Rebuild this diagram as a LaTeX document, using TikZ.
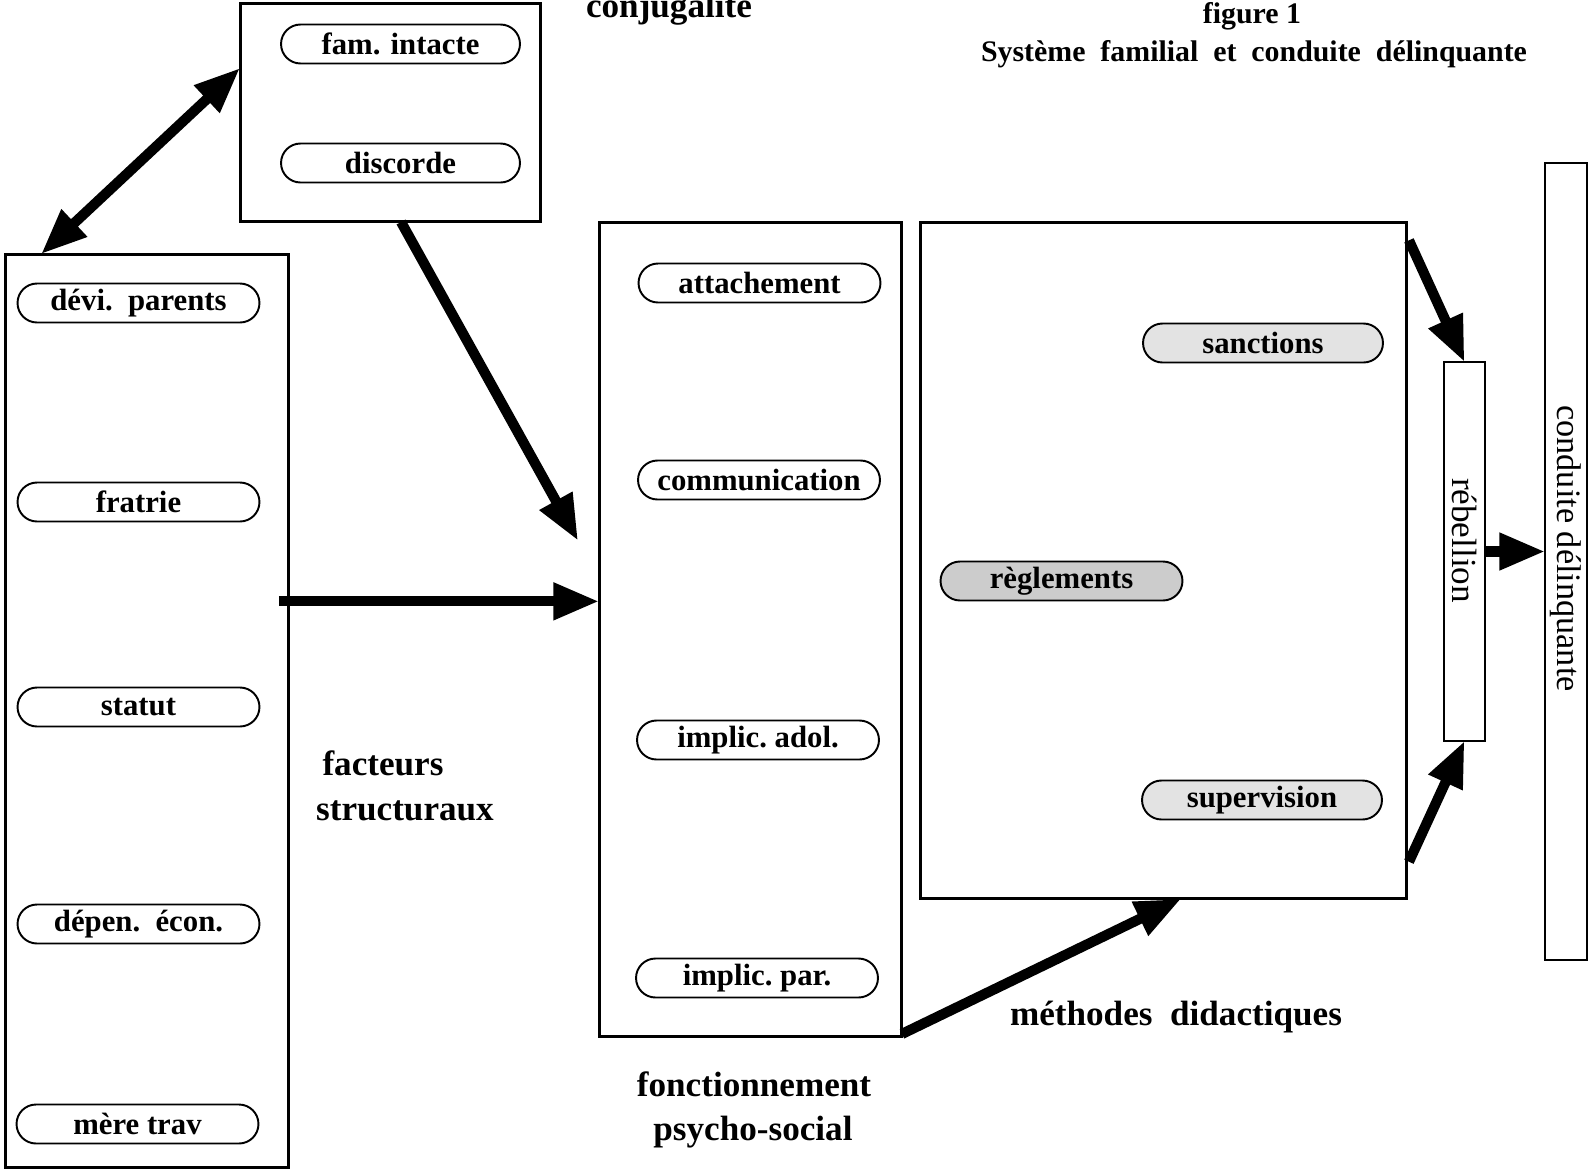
\documentclass[tikz,border=0pt]{standalone}
\usepackage{fontspec}
\setmainfont{Liberation Serif}
\usetikzlibrary{arrows.meta,calc,shapes.misc}
\begin{document}
\begin{tikzpicture}[x=0.02cm,y=-0.02cm,
  box/.style={draw, line width=1.7pt, inner sep=0pt, outer sep=0pt},
  pill/.style={draw, rounded rectangle, line width=1.1pt, minimum height=0.78cm,
    minimum width=4.84cm, inner sep=0pt, font=\fontsize{17.5}{20}\selectfont\bfseries},
  big/.style={font=\fontsize{20}{24}\selectfont\bfseries, inner sep=0pt, anchor=base},
  ttl/.style={font=\fontsize{17}{20}\selectfont\bfseries, inner sep=0pt, anchor=base},
  vert/.style={rotate=-90, inner sep=0pt, font=\fontsize{20}{24}\selectfont},
  tipT/.tip={Triangle[length=26pt,width=20pt]},
  fat/.style={line width=5.8pt, -tipT},
]
\useasboundingbox (0,0) rectangle (1589,1170);

% boxes
\node[box, minimum width=6.02cm, minimum height=4.38cm] (conj) at (390.5,112.5) {};
\node[box, minimum width=5.68cm, minimum height=18.28cm] (left) at (147,711) {};
\node[box, minimum width=6.06cm, minimum height=16.30cm] (mid) at (750.5,629.5) {};
\node[box, minimum width=9.74cm, minimum height=13.54cm] (meth) at (1163.5,560.5) {};
\node[box, line width=1.1pt, minimum width=0.82cm, minimum height=7.58cm] (reb) at (1464.5,551.5) {};
\node[box, line width=1.1pt, minimum width=0.84cm, minimum height=15.94cm] (cond) at (1566,561.5) {};

% pills
\node[pill, minimum width=4.78cm] (famint) at (400.5,44) {fam. intacte};
\node[pill, minimum width=4.78cm] (disc) at (400.5,163) {discorde};

\node[pill] (devi) at (138.5,303) {dévi.\ \ parents};
\node[pill] (frat) at (138.5,502) {fratrie};
\node[pill] (stat) at (138.5,707) {statut};
\node[pill] (depen) at (138.5,924) {dépen.\ \ écon.};
\node[pill] (mere) at (137.5,1124) {mère trav};

\node[pill] (attach) at (759.5,283) {attachement};
\node[pill] (comm) at (759,480) {communication};
\node[pill] (adol) at (758,740) {implic.\ adol.};
\node[pill] (par) at (757,978) {implic.\ par.};

\node[pill, fill=gray!22, minimum width=4.80cm] (sanc) at (1263,343) {sanctions};
\node[pill, fill=gray!40] (regl) at (1061.5,581) {règlements};
\node[pill, fill=gray!22, minimum width=4.80cm] (superv) at (1262,800) {supervision};

% vertical texts
\node[vert] (rebt) at ($(reb)+(0,-11)$) {rébellion};
\node[vert, font=\fontsize{19.5}{24}\selectfont] (condt) at ($(cond)+(0,-13)$) {conduite délinquante};

% labels
\node[big] (conjlab) at (669,17) {conjugalite};
\node[ttl] (fig) at (1252,23) {figure 1};
\node[ttl] (title) at (1254,61) {Système\ \ familial\ \ et\ \ conduite\ \ délinquante};
\node[big] (fact) at (383,775) {facteurs};
\node[big] (struct) at (405,820) {structuraux};
\node[big] (fonc) at (754,1096) {fonctionnement};
\node[big] (psy) at (753,1140) {psycho-social};
\node[big] (methl) at (1176,1025) {méthodes\ \ didactiques};

% connectors
\draw[line width=5.8pt, tipT-tipT]
  ($(conj.north west)!0.297!(conj.south west)$) -- ($(left.north west)!0.127!(left.north east)$);
\draw[fat] ($(conj.south west)!0.535!(conj.south east)$) -- ($(mid.north west)!0.391!(mid.south west)+(-21,0)$);
\coordinate (s3) at ($(left.north east)!0.38!(left.south east)+(-10,0)$);
\draw[fat] (s3) -- (s3 -| mid.west);
\draw[fat] ($(mid.south east)+(0,-3)$) -- ($(meth.south west)!0.536!(meth.south east)$);
\draw[fat] ($(meth.north east)!0.027!(meth.south east)+(2,0)$) -- (reb.north);
\draw[fat] ($(meth.north east)!0.945!(meth.south east)+(2,0)$) -- (reb.south);
\draw[fat] (reb.east) -- (reb.east -| cond.west);
\end{tikzpicture}
\end{document}
